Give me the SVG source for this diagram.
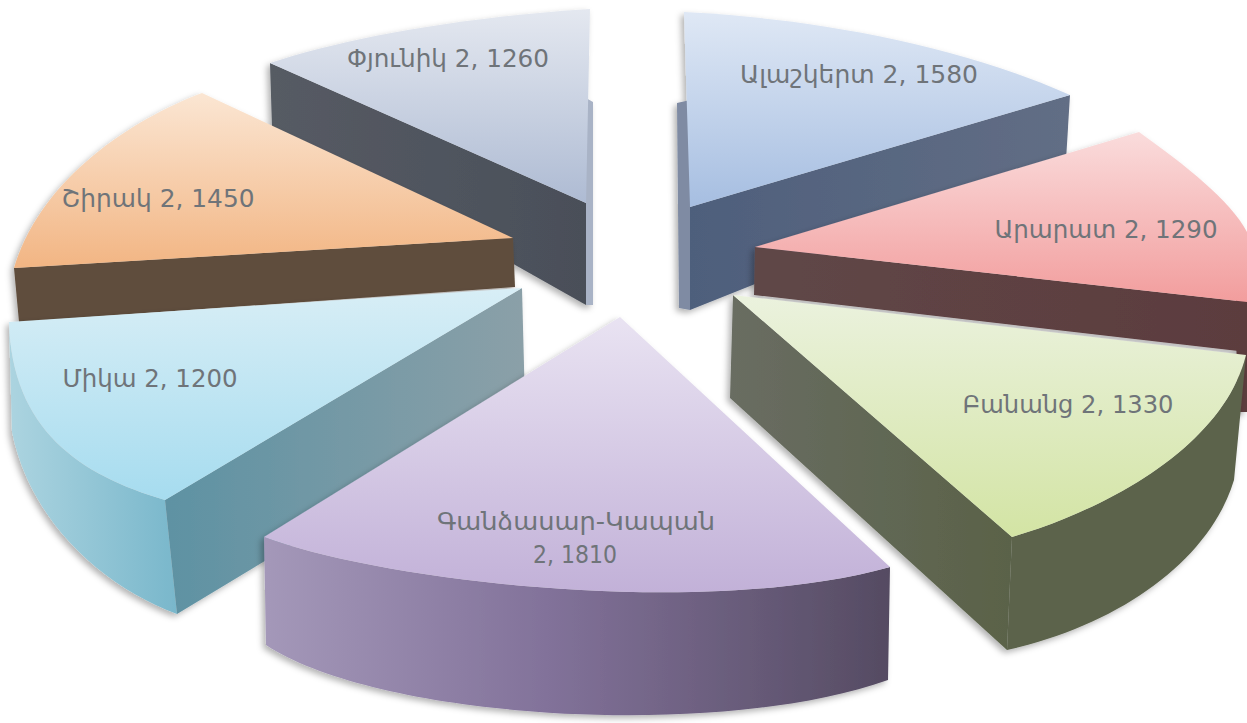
<svg xmlns="http://www.w3.org/2000/svg" width="1247" height="723" viewBox="0 0 1247 723">
<style>
.lbl{font-family:"DejaVu Sans Condensed","DejaVu Sans","Noto Sans",sans-serif;font-size:25px;fill:#6f7479;text-anchor:middle}
</style>
<defs>
<filter id="sh" x="-10%" y="-10%" width="125%" height="125%"><feDropShadow dx="-3" dy="3" stdDeviation="3" flood-color="#000" flood-opacity="0.3"/></filter>
<linearGradient id="phTop" x1="0" y1="0" x2="0" y2="1"><stop offset="0" stop-color="#e4e8f0"/><stop offset="1" stop-color="#aebbd3"/></linearGradient>
<linearGradient id="phSide" x1="0" y1="0" x2="1" y2="0"><stop offset="0" stop-color="#565b64"/><stop offset="1" stop-color="#4a4f59"/></linearGradient>
<linearGradient id="alTop" x1="0" y1="0" x2="0" y2="1"><stop offset="0" stop-color="#dfe8f5"/><stop offset="1" stop-color="#a6bee1"/></linearGradient>
<linearGradient id="alSide" x1="0" y1="0" x2="1" y2="0"><stop offset="0" stop-color="#4e5f7c"/><stop offset="1" stop-color="#626e85"/></linearGradient>
<linearGradient id="arTop" x1="0" y1="0" x2="0" y2="1"><stop offset="0" stop-color="#fadcdc"/><stop offset="1" stop-color="#f29d9d"/></linearGradient>
<linearGradient id="arSide" x1="0" y1="0" x2="1" y2="0"><stop offset="0" stop-color="#5f4747"/><stop offset="1" stop-color="#5c3c3e"/></linearGradient>
<linearGradient id="shTop" x1="0" y1="0" x2="0" y2="1"><stop offset="0" stop-color="#fbe6d3"/><stop offset="1" stop-color="#f2b583"/></linearGradient>
<linearGradient id="miTop" x1="0" y1="0" x2="0" y2="1"><stop offset="0" stop-color="#d8eef6"/><stop offset="1" stop-color="#a6dcef"/></linearGradient>
<linearGradient id="miSide" x1="0" y1="0" x2="1" y2="0"><stop offset="0" stop-color="#5e92a3"/><stop offset="1" stop-color="#8ba0a8"/></linearGradient>
<linearGradient id="miOut" x1="0" y1="0" x2="1" y2="0"><stop offset="0" stop-color="#acd4e0"/><stop offset="1" stop-color="#79b7cb"/></linearGradient>
<linearGradient id="gaTop" x1="0" y1="0" x2="0" y2="1"><stop offset="0" stop-color="#e9e3f2"/><stop offset="1" stop-color="#c2b1d8"/></linearGradient>
<linearGradient id="gaSide" x1="0" y1="0" x2="1" y2="0"><stop offset="0" stop-color="#a498b9"/><stop offset="0.45" stop-color="#82729a"/><stop offset="1" stop-color="#554b62"/></linearGradient>
<linearGradient id="baTop" x1="0" y1="0" x2="0" y2="1"><stop offset="0" stop-color="#ebf2de"/><stop offset="1" stop-color="#d3e4a4"/></linearGradient>
<linearGradient id="baSide" x1="0" y1="0" x2="1" y2="0"><stop offset="0" stop-color="#696d62"/><stop offset="1" stop-color="#5a6248"/></linearGradient>
</defs>
<rect width="1247" height="723" fill="#ffffff"/>

<g id="phyunik" filter="url(#sh)">
<path d="M586,98 L593,102 L593,305 L586,305 Z" fill="#a9b3c6"/>
<path d="M270,63 L586,203 L586,305 L272,128 Z" fill="url(#phSide)"/>
<path d="M270,63 C340,40 450,18 590,9 L586,203 Z" fill="url(#phTop)"/>
</g>

<g id="alashkert" filter="url(#sh)">
<path d="M677,103 L690,100 L690,310 L679,308 Z" fill="#7f8ba3"/>
<path d="M690,207 L1070,95 L1066,160 L690,310 Z" fill="url(#alSide)"/>
<path d="M684,12 C810,18 960,45 1070,95 L690,207 Z" fill="url(#alTop)"/>
</g>

<g id="ararat" filter="url(#sh)">
<path d="M1236,300 L1247,300 L1247,412 L1237,412 Z" fill="#5c3c3e"/>
<path d="M755,247 L1247,302 L1247,352 L754,295 Z" fill="url(#arSide)"/>
<path d="M755,247 L1139,132 C1185,165 1230,200 1247,232 L1247,302 Z" fill="url(#arTop)"/>
</g>

<g id="shirak" filter="url(#sh)">
<path d="M14,268 L513,238 L515,287 L19,322 Z" fill="#5f4d3c"/>
<path d="M202,93 C130,120 40,180 14,268 L513,238 Z" fill="url(#shTop)"/>
</g>

<g id="mika" filter="url(#sh)">
<path d="M9,322 C12,430 80,475 165,500 L177,614 C100,585 30,520 12,432 Z" fill="url(#miOut)"/>
<path d="M165,500 L522,288 L525,404 L177,614 Z" fill="url(#miSide)"/>
<path d="M9,322 L522,288 L165,500 C80,475 12,430 9,322 Z" fill="url(#miTop)"/>
</g>

<g id="banants" filter="url(#sh)">
<path d="M733,295 L1012,537 L1007,650 L730,398 Z" fill="url(#baSide)"/>
<path d="M1012,537 C1120,505 1225,440 1246,355 L1234,480 C1210,560 1120,625 1007,650 Z" fill="#5c634c"/>
<path d="M733,295 L1246,355 C1225,440 1120,505 1012,537 Z" fill="url(#baTop)"/>
</g>

<g id="gandzasar" filter="url(#sh)">
<path d="M264,537 C380,580 700,620 890,567 L888,680 C720,740 380,720 266,645 Z" fill="url(#gaSide)"/>
<path d="M620,317 L890,567 C700,620 380,580 264,537 Z" fill="url(#gaTop)"/>
</g>

<g id="labels">
<text class="lbl" x="448" y="67" textLength="202" lengthAdjust="spacingAndGlyphs">Փյունիկ 2, 1260</text>
<text class="lbl" x="859" y="83" textLength="238" lengthAdjust="spacingAndGlyphs">Ալաշկերտ 2, 1580</text>
<text class="lbl" x="1106" y="238" textLength="223" lengthAdjust="spacingAndGlyphs">Արարատ 2, 1290</text>
<text class="lbl" x="158" y="207" textLength="193" lengthAdjust="spacingAndGlyphs">Շիրակ 2, 1450</text>
<text class="lbl" x="150" y="387" textLength="175" lengthAdjust="spacingAndGlyphs">Միկա 2, 1200</text>
<text class="lbl" x="1068" y="413" textLength="211" lengthAdjust="spacingAndGlyphs">Բանանց 2, 1330</text>
<text class="lbl" x="576" y="530" textLength="278" lengthAdjust="spacingAndGlyphs">Գանձասար-Կապան</text>
<text class="lbl" x="575" y="563" textLength="84" lengthAdjust="spacingAndGlyphs">2, 1810</text>
</g>
</svg>
